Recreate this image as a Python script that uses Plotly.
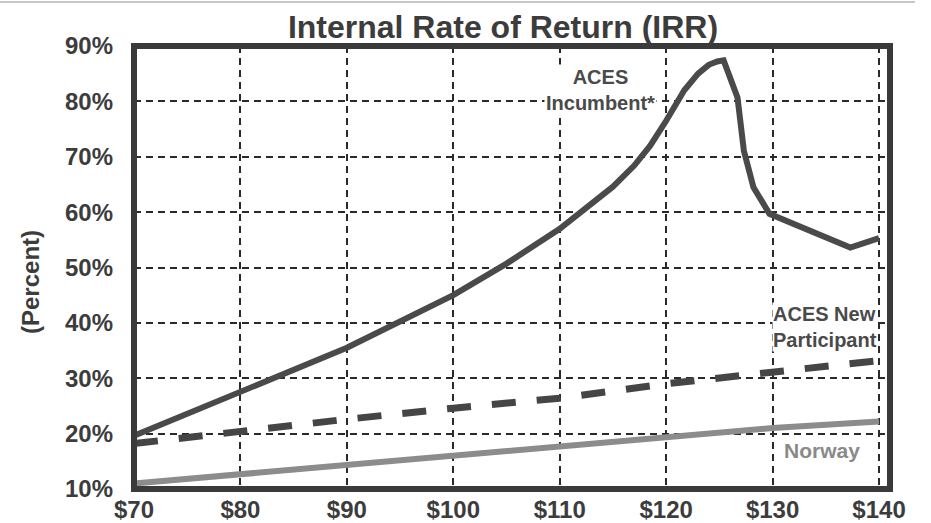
import plotly.graph_objects as go

# Oil price scenarios ($/bbl) and internal rate of return (%)
incumbent_price = [70, 80, 90, 100, 105, 110, 112, 115, 117, 118.5, 120, 121.7, 123, 124, 124.8, 125.4,
                   126.7, 127.3, 128.2, 129.7, 137.3, 140]
incumbent_irr = [19.6, 27.5, 35.5, 45.0, 50.7, 57.0, 60.0, 64.6, 68.4, 72.0, 76.5, 82.0, 85.0, 86.6, 87.2, 87.4,
                 80.7, 71.1, 64.5, 59.7, 53.6, 55.3]

new_price = [70, 80, 90, 100, 110, 120, 130, 140]
new_irr = [18.2, 20.5, 22.6, 24.6, 26.4, 29.0, 31.1, 33.2]

norway_price = [70, 80, 90, 100, 110, 120, 130, 140]
norway_irr = [11.0, 12.7, 14.4, 16.0, 17.7, 19.3, 21.0, 22.2]

x_ticks = [70, 80, 90, 100, 110, 120, 130, 140]
x_tick_text = ["$70", "$80", "$90", "$100", "$110", "$120", "$130", "$140"]
y_ticks = [10, 20, 30, 40, 50, 60, 70, 80, 90]
y_tick_text = ["10%", "20%", "30%", "40%", "50%", "60%", "70%", "80%", "90%"]

FONT = "Liberation Sans, Arial, sans-serif"
DARK = "#3c3c3c"

fig = go.Figure()
fig.add_trace(go.Scatter(x=norway_price, y=norway_irr, mode="lines",
                         line=dict(color="#8c8c8c", width=6), showlegend=False))
fig.add_trace(go.Scatter(x=new_price, y=new_irr, mode="lines",
                         line=dict(color="#454545", width=7, dash="24px,21px"), showlegend=False))
fig.add_trace(go.Scatter(x=incumbent_price, y=incumbent_irr, mode="lines",
                         line=dict(color="#4a4a4a", width=6), showlegend=False))

fig.update_layout(
    width=931, height=523,
    margin=dict(l=134, r=41, t=46, b=34, autoexpand=False),
    paper_bgcolor="white", plot_bgcolor="white",
    font=dict(family=FONT, color=DARK),
    title=dict(text="Internal Rate of Return (IRR)", x=503 / 931, xanchor="center",
               y=1 - 27 / 523, yanchor="middle", automargin=False,
               font=dict(family=FONT, size=32, weight="bold", color=DARK)),
    xaxis=dict(range=[70, 141.03], tickvals=x_ticks, ticktext=x_tick_text, automargin=False,
               showgrid=True, gridcolor="#2a2a2a", gridwidth=2, griddash="7px,5px",
               zeroline=False, showline=False, ticks="", ticklabelstandoff=4,
               tickfont=dict(family=FONT, size=24, weight="bold", color=DARK)),
    yaxis=dict(range=[10, 90], tickvals=y_ticks, ticktext=y_tick_text, automargin=False,
               showgrid=True, gridcolor="#2a2a2a", gridwidth=2, griddash="7px,5px",
               zeroline=False, showline=False, ticks="", ticklabelstandoff=20,
               tickfont=dict(family=FONT, size=24, weight="bold", color=DARK)),
)

# heavy frame around the plotting area
fig.add_shape(type="rect", xref="paper", yref="paper", x0=0, x1=1, y0=0, y1=1,
              line=dict(color="#3a3a3a", width=6), layer="above")
# thin rule along the top of the page
fig.add_shape(type="line", xref="paper", yref="paper",
              x0=-134 / 756, x1=(915 - 134) / 756, y0=1 + 44 / 443, y1=1 + 44 / 443,
              line=dict(color="#c8c8c8", width=2))

fig.add_annotation(text="(Percent)", xref="paper", yref="paper",
                   x=(30 - 134) / 756, y=(489 - 282) / 443, textangle=-90,
                   showarrow=False, xanchor="center", yanchor="middle",
                   font=dict(family=FONT, size=24, weight="bold", color=DARK))

fig.add_annotation(text="ACES<br>Incumbent*", x=113.8, y=82.0, showarrow=False,
                   xanchor="center", yanchor="middle", bgcolor="white",
                   font=dict(family=FONT, size=20, weight="bold", color="#4a4a4a"))
fig.add_annotation(text="ACES New<br>Participant", x=129.95, y=39.3, showarrow=False,
                   xanchor="left", yanchor="middle", align="left", bgcolor="white",
                   borderpad=0,
                   font=dict(family=FONT, size=20, weight="bold", color="#4a4a4a"))
fig.add_annotation(text="Norway", x=134.6, y=17.0, showarrow=False,
                   xanchor="center", yanchor="middle", bgcolor="white",
                   font=dict(family=FONT, size=21, weight="bold", color="#8a8a8a"))

fig.write_html("out.html")
